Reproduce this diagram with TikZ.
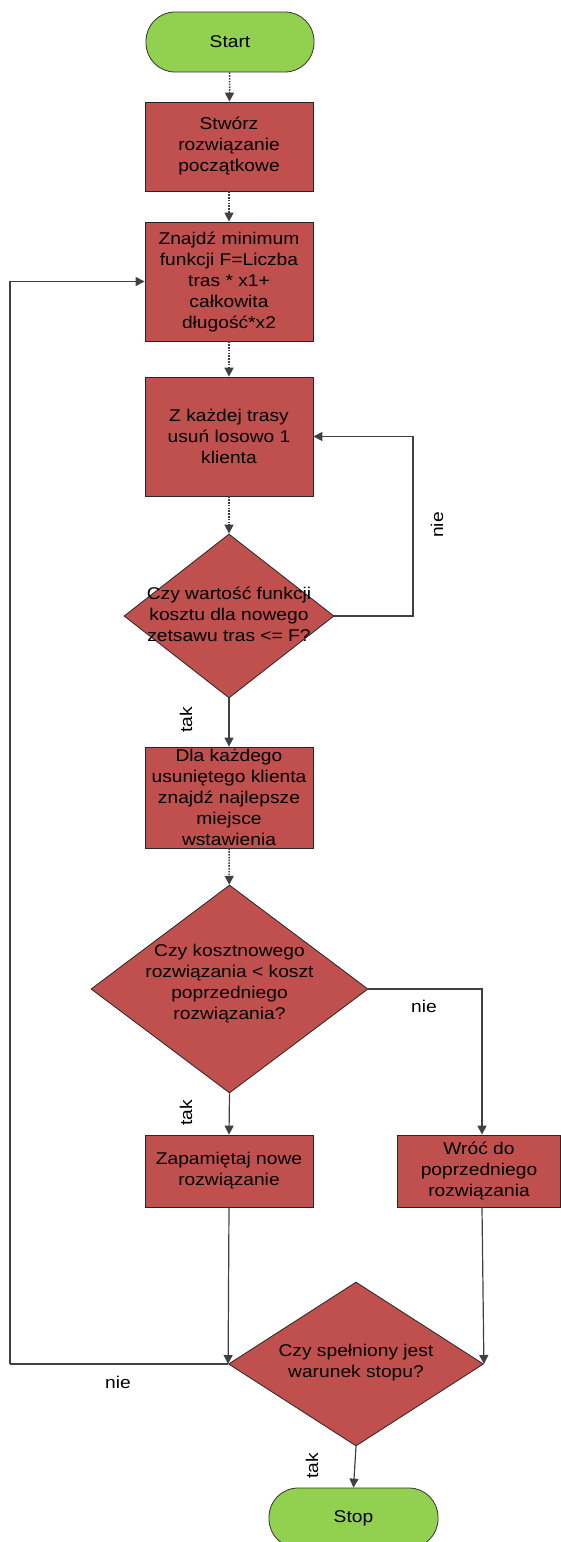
\documentclass[tikz,border=0pt]{standalone}
\usepackage{fontspec}
\setmainfont{Liberation Sans}[FakeStretch=1.13]
\usetikzlibrary{shapes.geometric,arrows.meta}
\definecolor{boxred}{HTML}{C0504D}
\definecolor{termgreen}{HTML}{92D050}
\definecolor{linegray}{HTML}{404040}
\begin{document}
\begin{tikzpicture}[x=1pt,y=-1pt,
  txt/.style={font=\fontsize{17}{21}\selectfont, align=center},
  term/.style={draw=black!80, line width=0.8pt, fill=termgreen, rounded corners=29pt, minimum width=168pt, minimum height=60pt, inner sep=0pt, txt},
  proc/.style={draw=black!85, line width=0.8pt, fill=boxred, inner sep=0pt, txt},
  dec/.style={draw=black!85, line width=0.8pt, fill=boxred, diamond, inner sep=0pt},
  arr/.style={draw=linegray, line width=1.2pt, -{Triangle[length=9pt,width=9pt]}},
  darr/.style={arr, line width=1.5pt, dash pattern=on 1.6pt off 1.2pt},
  lbl/.style={font=\fontsize{17}{19}\selectfont}
]
\useasboundingbox (0,0) rectangle (561,1542);
% nodes
\node[term] (start) at (230,42) {Start};
\node[proc, minimum width=168pt, minimum height=89pt] (b1) at (229,146.5) {Stwórz\\rozwiązanie\\początkowe};
\node[proc, minimum width=168pt, minimum height=119pt] (b2) at (229,281.5) {Znajdź minimum\\funkcji F=Liczba\\tras * x1+\\całkowita\\długość*x2};
\node[proc, minimum width=168pt, minimum height=119pt] (b3) at (229,436.5) {Z każdej trasy\\usuń losowo 1\\klienta};
\node[dec, minimum width=210pt, minimum height=164pt] (d1) at (229,616) {};
\node[txt] (d1t) at (229,614) {Czy wartość funkcji\\kosztu dla nowego\\zetsawu tras <= F?};
\node[proc, minimum width=168pt, minimum height=101pt] (b4) at (229,797.5) {Dla każdego\\usuniętego klienta\\znajdź najlepsze\\miejsce\\wstawienia};
\node[dec, minimum width=277pt, minimum height=208pt] (d2) at (229.5,989) {};
\node[txt] (d2t) at (229.5,984) {Czy kosztnowego\\rozwiązania < koszt\\poprzedniego\\rozwiązania?};
\node[proc, minimum width=168pt, minimum height=72pt] (b5) at (229,1171) {Zapamiętaj nowe\\rozwiązanie};
\node[proc, minimum width=163pt, minimum height=72pt] (b6) at (479,1171) {Wróć do\\poprzedniego\\rozwiązania};
\node[dec, minimum width=255pt, minimum height=164pt] (d3) at (356,1364) {};
\node[txt] (d3t) at (356,1363) {Czy spełniony jest\\warunek stopu?};
\node[term, minimum width=169pt] (stop) at (353.5,1518) {Stop};
% helper coordinates
\coordinate (r1) at (413,616);
\coordinate (r2) at (482,989);
\coordinate (l1) at (10,1364);
% connectors
\draw[darr] (start) -- (b1);
\draw[darr] (b1) -- (b2);
\draw[darr] (b2) -- (b3);
\draw[darr] (b3) -- (d1);
\draw[arr] (d1.east) -- (r1) |- (b3.east);
\draw[arr] (d1.south) -- (b4.north);
\draw[darr] (b4) -- (d2);
\draw[arr] (d2.east) -- (r2) -- (r2 |- b6.north);
\draw[arr] (d2.south) -- (b5.north);
\draw[arr] (b5.south) -- (d3.west);
\draw[arr] (b6.south -| r2) -- (d3.east);
\draw[draw=linegray, line width=1.2pt] (d3.west) -- (l1);
\draw[arr] (l1) |- (b2.west);
\draw[arr] (d3.south) -- (stop.north);
% labels
\node[lbl, rotate=90] (n1) at (437,525) {nie};
\node[lbl, rotate=90] (t1) at (186,720) {tak};
\node[lbl] (n2) at (424,1006) {nie};
\node[lbl, rotate=90] (t2) at (186,1113) {tak};
\node[lbl] (n3) at (118,1382) {nie};
\node[lbl, rotate=90] (t3) at (312,1466) {tak};
\end{tikzpicture}
\end{document}
